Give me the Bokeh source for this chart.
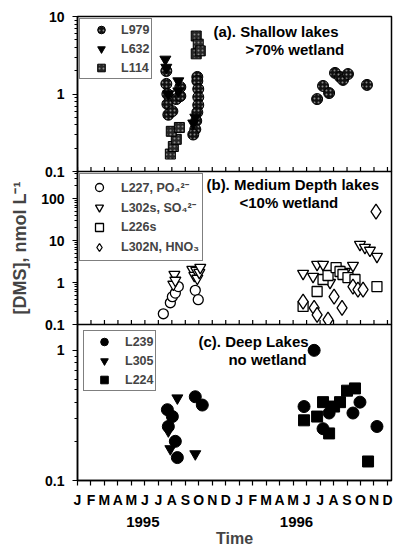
import math
from bokeh.plotting import figure
from bokeh.layouts import column
from bokeh.models import FixedTicker, Label, LinearAxis, Range1d
from bokeh.embed import file_html
from bokeh.resources import INLINE

FONT = "Liberation Sans"

# ---------------- data ----------------
month_labels = ["J", "F", "M", "A", "M", "J", "J", "A", "S", "O", "N", "D",
                "J", "F", "M", "A", "M", "J", "J", "A", "S", "O", "N", "D"]
month_ticks = list(range(24))
year_labels = ["1995", "1996"]
year_ticks = [4.85, 16.25]

# x = months since Jan 1995
# (a) shallow lakes
l979_x = [6.59, 6.59, 6.67, 6.67, 6.74, 7.04, 7.33, 7.63, 7.63, 8.89, 8.89, 8.96, 8.96, 8.96,
          8.89, 8.81, 8.74, 8.59, 17.78, 18.22, 18.67, 19.11, 19.48, 19.70, 20.07, 21.48]
l979_y = [1.98, 1.35, 1.00, 0.74, 0.54, 0.60, 0.86, 1.23, 0.94, 1.66, 1.47, 1.16, 0.91, 0.72,
          0.58, 0.45, 0.35, 0.30, 0.86, 1.27, 1.03, 1.87, 1.66, 1.52, 1.81, 1.31]
l632_x = [6.52, 6.59, 7.48, 7.48, 6.74, 8.59, 8.74]
l632_y = [2.80, 2.20, 1.47, 1.09, 1.00, 0.42, 0.50]
l114_x = [6.89, 7.11, 7.33, 6.96, 7.56, 8.81, 8.96, 8.81, 9.11]
l114_y = [0.168, 0.21, 0.26, 0.33, 0.37, 5.6, 4.4, 3.3, 3.6]

# (b) medium depth lakes
l227_x = [6.37, 6.89, 7.04, 7.26, 7.48, 8.74, 8.96]
l227_y = [0.18, 0.33, 0.46, 0.56, 0.80, 0.65, 0.39]
l302s_x = [7.11, 7.19, 7.26, 8.52, 8.67, 8.81, 8.89, 9.04, 9.11,
           16.74, 17.48, 17.78, 18.22, 18.74, 19.33, 19.85, 20.44, 20.96, 21.33, 21.70, 22.22]
l302s_y = [0.90, 1.55, 1.12, 2.04, 1.47, 1.93, 1.25, 1.73, 2.28,
           1.64, 1.39, 2.68, 2.68, 1.00, 2.04, 1.83, 2.54, 8.0, 6.8, 5.8, 4.16]
l226s_x = [16.74, 17.78, 18.22, 18.59, 19.19, 19.48, 19.70, 20.07, 20.59, 22.22]
l226s_y = [0.27, 0.61, 1.18, 1.47, 2.27, 1.83, 1.55, 1.31, 1.18, 0.80]
l302n_x = [16.74, 17.56, 17.78, 18.59, 19.04, 19.63, 20.44, 20.81, 21.19, 22.15]
l302n_y = [0.35, 0.25, 0.17, 0.13, 0.46, 0.25, 0.80, 0.68, 0.68, 49.0]

# (c) deep lakes
l239_x = [6.67, 7.04, 6.74, 7.26, 7.41, 8.74, 9.26, 16.81, 17.56, 18.22, 18.67, 20.44, 20.96, 22.22]
l239_y = [0.35, 0.31, 0.26, 0.20, 0.15, 0.44, 0.38, 0.37, 1.00, 0.25, 0.33, 0.33, 0.40, 0.26]
l305_x = [7.41, 6.74, 6.89, 8.74]
l305_y = [0.43, 0.24, 0.175, 0.16]
l224_x = [16.81, 17.78, 18.22, 18.67, 19.04, 19.48, 20.00, 20.59, 21.56]
l224_y = [0.29, 0.31, 0.40, 0.23, 0.37, 0.40, 0.49, 0.51, 0.14]

yrange_a = (0.1, 10)
yrange_b = (0.1, 440)
yrange_c = (0.1, 1.58)

# ---------------- layout ----------------
x_range = Range1d(0, 23.3)


def decade_minors(lo_exp, hi_exp):
    return [m * 10.0 ** e for e in range(lo_exp, hi_exp) for m in range(2, 10)]


def make_panel(height, yr, top, bottom, major, minor, with_x):
    p = figure(width=394, height=height, x_range=x_range, y_range=Range1d(*yr),
               y_axis_type="log", x_axis_location=("below" if with_x else None),
               output_backend="svg", toolbar_location=None,
               min_border_left=77, min_border_right=3, min_border_top=top,
               min_border_bottom=bottom)
    p.xgrid.visible = False
    p.ygrid.visible = False
    p.outline_line_color = "black"
    p.outline_line_width = 1.5
    p.outline_line_alpha = 1.0
    p.background_fill_color = "white"
    p.border_fill_color = None
    ya = p.yaxis[0]
    ya.ticker = FixedTicker(ticks=major, minor_ticks=minor)
    ya.major_label_overrides = {t: ("%g" % t) for t in major}
    ya.major_tick_out = 5
    ya.major_tick_in = 0
    ya.minor_tick_out = 3
    ya.minor_tick_in = 0
    ya.axis_line_width = 1.5
    ya.major_tick_line_width = 1.2
    ya.major_label_standoff = 8
    ya.major_label_text_font = FONT
    ya.major_label_text_font_style = "bold"
    ya.major_label_text_font_size = "14px"
    ya.major_label_text_color = "black"
    if not with_x:
        # inward month tick marks along the bottom edge of the frame
        p.scatter(month_ticks, [yr[0]] * len(month_ticks), marker="dash", angle=math.pi / 2,
                  size=9, line_color="black", line_width=1.2)
    return p


def style_legend(p, pad, gh, gw, standoff, margin):
    lg = p.legend[0]
    lg.location = "top_left"
    lg.margin = margin
    lg.padding = pad
    lg.glyph_height = gh
    lg.glyph_width = gw
    lg.label_height = 14
    lg.spacing = 0
    lg.label_standoff = standoff
    lg.border_line_color = "black"
    lg.border_line_width = 1.5
    lg.background_fill_alpha = 1.0
    lg.label_text_font = FONT
    lg.label_text_font_style = "bold"
    lg.label_text_font_size = "12.5px"


def title(p, x, y, text):
    p.add_layout(Label(x=x, y=y, text=text, text_font=FONT, text_font_style="bold",
                       text_font_size="15px", text_baseline="middle", text_color="black"))


# ---- panel (a)
pa = make_panel(181, yrange_a, 16, 10, [0.1, 1, 10], decade_minors(-1, 1), False)
pa.scatter(l979_x, l979_y, marker="circle", size=11, fill_color="#111111", line_color="black",
           hatch_pattern=".", hatch_color="#8a8a8a", hatch_scale=4, legend_label="L979")
pa.scatter(l632_x, l632_y, marker="inverted_triangle", size=11, fill_color="black",
           line_color="black", legend_label="L632")
pa.scatter(l114_x, l114_y, marker="square", size=10, fill_color="#262626", line_color="black",
           hatch_pattern=".", hatch_color="#8a8a8a", hatch_scale=4, legend_label="L114")
style_legend(pa, 1, 19, 40, 0, 2)
title(pa, 10.09, 6.35, "(a).  Shallow lakes")
title(pa, 12.46, 3.8, ">70% wetland")

# ---- panel (b)
pb = make_panel(163, yrange_b, 0, 10, [0.1, 1, 10, 100], decade_minors(-1, 3), False)
pb.styles = {"margin-top": "-10px"}
pb.scatter(l227_x, l227_y, marker="circle", size=10, fill_color="white", line_color="black",
           line_width=1.3, legend_label="L227, PO\u2084\u00b2\u207b")
pb.scatter(l302s_x, l302s_y, marker="inverted_triangle", size=11, fill_color="white",
           line_color="black", line_width=1.3, legend_label="L302s, SO\u2084\u00b2\u207b")
pb.scatter(l226s_x, l226s_y, marker="square", size=10, fill_color="white", line_color="black",
           line_width=1.3, legend_label="L226s")
pb.scatter(l302n_x, l302n_y, marker="diamond", size=15, fill_color="white", line_color="black",
           line_width=1.3, legend_label="L302N, HNO\u2083")
style_legend(pb, 3, 20, 32, 6, 2)
yb = pb.yaxis[0]
yb.axis_label = "[DMS], nmol L\u207b\u00b9"
yb.axis_label_text_font = FONT
yb.axis_label_text_font_style = "bold"
yb.axis_label_text_font_size = "18px"
yb.axis_label_standoff = 8
title(pb, 9.57, 215, "(b).  Medium Depth lakes")
title(pb, 12.02, 80, "<10% wetland")

# ---- panel (c)
pc = make_panel(225, yrange_c, 0, 68, [0.1, 1], decade_minors(-1, 0), True)
pc.styles = {"margin-top": "-10px"}
pc.scatter(l239_x, l239_y, marker="circle", size=12, fill_color="black", line_color="black",
           legend_label="L239")
pc.scatter(l305_x, l305_y, marker="inverted_triangle", size=11, fill_color="black",
           line_color="black", legend_label="L305")
pc.scatter(l224_x, l224_y, marker="square", size=11, fill_color="black", line_color="black",
           legend_label="L224")
style_legend(pc, 1, 19, 38, 2, 6)
xc = pc.xaxis[0]
xc.ticker = FixedTicker(ticks=month_ticks)
xc.major_label_overrides = {t: month_labels[t] for t in month_ticks}
xc.major_tick_out = 5
xc.major_tick_in = 0
xc.minor_tick_out = 0
xc.minor_tick_in = 0
xc.major_tick_line_width = 1.2
xc.axis_line_width = 1.5
xc.major_label_standoff = 6
xc.major_label_text_font = FONT
xc.major_label_text_font_style = "bold"
xc.major_label_text_font_size = "14px"
xc.major_label_text_color = "black"

yax = LinearAxis(ticker=FixedTicker(ticks=year_ticks),
                 major_label_overrides={t: l for t, l in zip(year_ticks, year_labels)},
                 major_tick_out=0, major_tick_in=0, minor_tick_out=0, minor_tick_in=0,
                 axis_line_color=None, major_label_standoff=6,
                 major_label_text_font=FONT, major_label_text_font_style="bold",
                 major_label_text_font_size="15px", major_label_text_color="black",
                 axis_label="Time", axis_label_standoff=0, axis_label_text_font=FONT,
                 axis_label_text_font_style="bold", axis_label_text_font_size="16px")
pc.add_layout(yax, "below")
title(pc, 8.98, 1.17, "(c).  Deep Lakes")
title(pc, 11.2, 0.853, "no wetland")

layout = column(pa, pb, pc, spacing=0)
open("out.html", "w").write(file_html(layout, INLINE))
